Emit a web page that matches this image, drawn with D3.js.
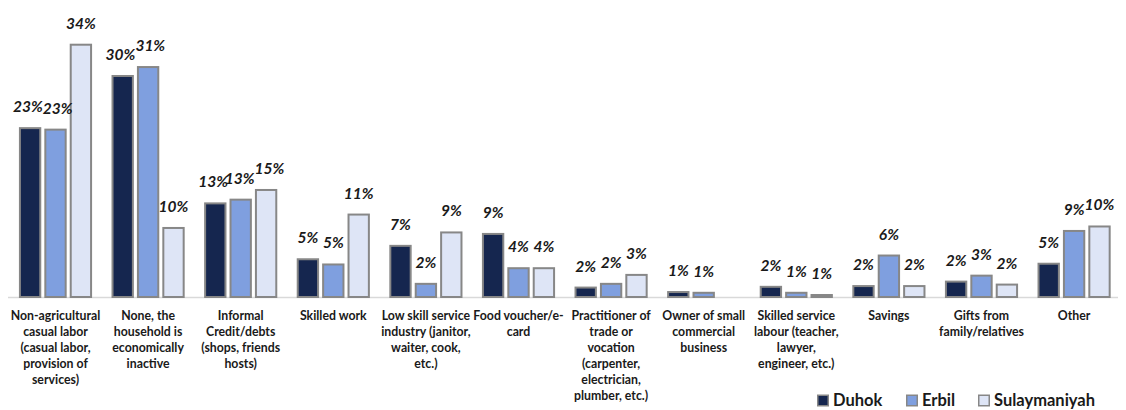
<!DOCTYPE html>
<html><head><meta charset="utf-8">
<script src="https://cdn.jsdelivr.net/npm/d3@7"></script>
<style>
html,body{margin:0;padding:0;background:#fff;}
svg{display:block;}
</style></head>
<body>
<svg id="chart" width="1126" height="410"></svg>
<script>
const categories = [
  "Non-agricultural\ncasual labor\n(casual labor,\nprovision of\nservices)",
  "None, the\nhousehold is\neconomically\ninactive",
  "Informal\nCredit/debts\n(shops, friends\nhosts)",
  "Skilled work",
  "Low skill service\nindustry (janitor,\nwaiter, cook,\netc.)",
  "Food voucher/e-\ncard",
  "Practitioner of\ntrade or\nvocation\n(carpenter,\nelectrician,\nplumber, etc.)",
  "Owner of small\ncommercial\nbusiness",
  "Skilled service\nlabour (teacher,\nlawyer,\nengineer, etc.)",
  "Savings",
  "Gifts from\nfamily/relatives",
  "Other"
];
const seriesNames = ["Duhok", "Erbil", "Sulaymaniyah"];
const duhok = [22.8, 29.8, 12.7, 5.2, 7.0, 8.6, 1.4, 0.8, 1.5, 1.6, 2.2, 4.6];
const erbil = [22.6, 31.0, 13.2, 4.5, 1.9, 4.0, 1.9, 0.7, 0.7, 5.7, 3.0, 9.0];
const sulaymaniyah = [34.0, 9.4, 14.5, 11.2, 8.8, 4.0, 3.1, null, 0.4, 1.6, 1.8, 9.6];
const duhokLabels = ["23%","30%","13%","5%","7%","9%","2%","1%","2%","2%","2%","5%"];
const erbilLabels = ["23%","31%","13%","5%","2%","4%","2%","1%","1%","6%","3%","9%"];
const sulaymaniyahLabels = ["34%","10%","15%","11%","9%","4%","3%",null,"1%","2%","2%","10%"];

const values = [duhok, erbil, sulaymaniyah];
const labels = [duhokLabels, erbilLabels, sulaymaniyahLabels];
const colors = ["#15264f", "#7f9fdf", "#dee5f6"];

const svg = d3.select("#chart");
const baseY = 297;
const x = d3.scaleBand().domain(d3.range(categories.length)).range([9.2, 1120.4])
  .paddingInner(0.21).paddingOuter(0.105);
const xs = d3.scaleBand().domain(d3.range(3)).range([0, x.bandwidth()]).paddingInner(0.12);
const y = d3.scaleLinear().domain([0, 34]).range([baseY, 43.7]);

// axis line
svg.append("line").attr("x1", 8).attr("x2", 1118).attr("y1", baseY + 0.5).attr("y2", baseY + 0.5)
  .attr("stroke", "#d9d9d9").attr("stroke-width", 1.5);

const data = [];
categories.forEach((c, i) => {
  values.forEach((arr, s) => {
    if (arr[i] != null) data.push({i, s, v: arr[i], label: labels[s][i]});
  });
});

svg.append("g").selectAll("rect").data(data).join("rect")
  .attr("x", d => x(d.i) + xs(d.s) + 1)
  .attr("y", d => y(d.v) + 1)
  .attr("width", xs.bandwidth() - 2)
  .attr("height", d => Math.max(0, baseY - y(d.v) - 1))
  .attr("fill", d => colors[d.s])
  .attr("stroke", "#878787").attr("stroke-width", 2);

const vl = svg.append("g").selectAll("text").data(data).join("text")
  .attr("x", d => x(d.i) + xs(d.s) + xs.bandwidth() / 2)
  .attr("y", d => y(d.v) - 15)
  .attr("text-anchor", "middle")
  .attr("font-family", "Lato, 'Open Sans', sans-serif")
  .attr("font-weight", "bold").attr("font-style", "italic")
  .attr("font-size", 15.5).attr("fill", "#1a1a1a")
  .text(d => d.label);

// simple collision avoidance between neighbouring labels of a group
vl.each(function(d) {
  d.w = this.getComputedTextLength();
  d.cx = +this.getAttribute("x");
  d.cy = +this.getAttribute("y");
});
d3.groups(data, d => d.i).forEach(([i, arr]) => {
  for (let k = 0; k < arr.length - 1; k++) {
    const a = arr[k], b = arr[k + 1];
    if (Math.abs(a.cy - b.cy) < 11) {
      const overlap = (a.cx + a.w / 2) - (b.cx - b.w / 2);
      if (overlap > 0) { a.cx -= overlap / 2; b.cx += overlap / 2; }
    }
  }
});
vl.attr("x", d => d.cx);

// category labels
const cat = svg.append("g").selectAll("text").data(categories).join("text")
  .attr("x", (d, i) => x(i) + x.bandwidth() / 2)
  .attr("y", 319.5)
  .attr("text-anchor", "middle")
  .attr("font-family", "Lato, 'Open Sans', sans-serif")
  .attr("font-weight", "bold").attr("font-size", 12.3).attr("fill", "#1a1a1a");
cat.each(function(d) {
  const t = d3.select(this);
  d.split("\n").forEach((line, k) => {
    t.append("tspan").attr("x", t.attr("x")).attr("dy", k === 0 ? 0 : 16).text(line);
  });
});

// legend
const legX = [817, 906, 978];
const leg = svg.append("g");
seriesNames.forEach((n, s) => {
  leg.append("rect").attr("x", legX[s] + 0.75).attr("y", 395.25).attr("width", 10.5).attr("height", 10.5)
    .attr("fill", colors[s]).attr("stroke", "#878787").attr("stroke-width", 1.5);
  leg.append("text").attr("x", legX[s] + 16).attr("y", 405.5)
    .attr("font-family", "Lato, 'Open Sans', sans-serif")
    .attr("font-weight", "bold").attr("font-size", 16.5).attr("fill", "#1a1a1a").text(n);
});
</script>
</body></html>
